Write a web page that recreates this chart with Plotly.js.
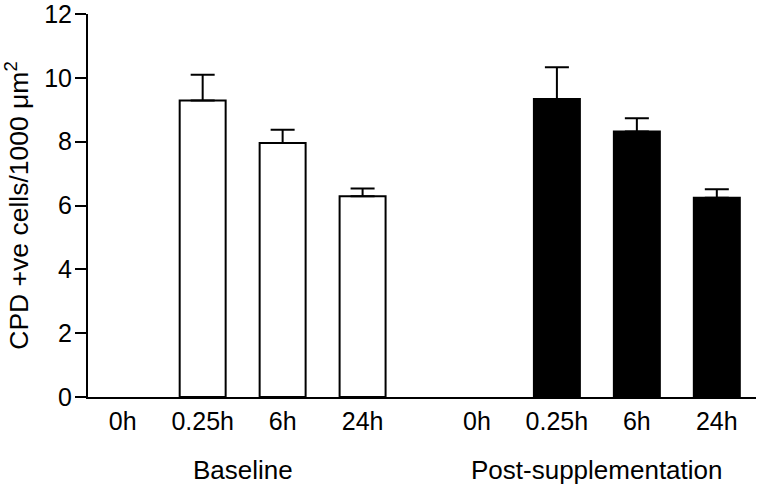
<!DOCTYPE html>
<html>
<head>
<meta charset="utf-8">
<script src="https://cdn.plot.ly/plotly-3.0.1.min.js"></script>
<style>
  html, body { margin: 0; padding: 0; background: #fff; }
  #chart { width: 759px; height: 486px; }
</style>
</head>
<body>
<div id="chart"></div>
<script>
// time points and groups
const timeLabels = ['0h', '0.25h', '6h', '24h'];
const groups = ['Baseline', 'Post-supplementation'];

// x slots for each bar (the second group sits a bit further out)
const baselineX = [0, 1, 2, 3];
const postX = [4.43, 5.43, 6.43, 7.43];

// means and SEM (0h has no bar and no error bar)
const baselineMean = [0, 9.29, 7.96, 6.29];
const baselineErr = [null, 0.81, 0.41, 0.24];
const postMean = [0, 9.34, 8.32, 6.24];
const postErr = [null, 0.99, 0.41, 0.27];

const FONT = 'Arial, "Liberation Sans", sans-serif';

function barTrace(x, y, err, fill) {
    // NaN makes plotly skip the cap for the empty slots
    const up = err.map(e => e == null ? NaN : e);
    return {
        type: 'bar',
        x: x, y: y,
        width: 0.575,
        marker: {
            color: fill,
            line: { color: '#000', width: y.map(v => v > 0 ? 2 : 0) }
        },
        error_y: {
            type: 'data', array: up, arrayminus: up.map(e => isNaN(e) ? NaN : 0),
            symmetric: false, color: '#000', thickness: 2, width: 12
        },
        hoverinfo: 'skip',
        showlegend: false
    };
}

const traces = [
    barTrace(baselineX, baselineMean, baselineErr, '#fff'),
    barTrace(postX, postMean, postErr, '#000')
];

const mid = a => (a[0] + a[a.length - 1]) / 2;

const layout = {
    width: 759, height: 486,
    paper_bgcolor: '#fff', plot_bgcolor: '#fff',
    margin: { t: 14, b: 89, l: 88, r: 3 },
    font: { family: FONT, color: '#000', size: 26 },
    bargap: 0,
    xaxis: {
        range: [-0.434, 7.92],
        tickvals: baselineX.concat(postX),
        ticktext: timeLabels.concat(timeLabels),
        ticks: '', ticklabelstandoff: 1,
        showline: true, linecolor: '#000', linewidth: 2,
        showgrid: false, zeroline: false,
        tickfont: { size: 25 }
    },
    yaxis: {
        range: [0, 12], dtick: 2,
        ticks: 'outside', ticklen: 11, tickwidth: 2, tickcolor: '#000',
        ticklabelstandoff: -2, ticklabeloverflow: 'allow',
        showline: true, linecolor: '#000', linewidth: 2,
        showgrid: false, zeroline: false,
        tickfont: { size: 25 },
        title: { text: 'CPD +ve cells/1000 μm<sup>2</sup>', font: { size: 26.5 }, standoff: 9 }
    },
    annotations: [
        { x: mid(baselineX), y: -0.19, xref: 'x', yref: 'paper', text: groups[0],
          showarrow: false, yanchor: 'middle', font: { size: 26 } },
        { x: mid(postX), y: -0.19, xref: 'x', yref: 'paper', text: groups[1],
          showarrow: false, yanchor: 'middle', font: { size: 26 } }
    ]
};

Plotly.newPlot('chart', traces, layout, { displayModeBar: false, staticPlot: true });
</script>
</body>
</html>
